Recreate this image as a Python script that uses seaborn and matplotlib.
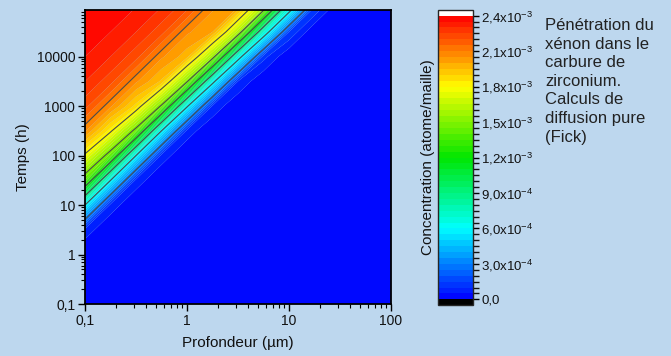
import numpy as np
import matplotlib
matplotlib.use("Agg")
import matplotlib.pyplot as plt
import seaborn as sns
from matplotlib.colors import LinearSegmentedColormap, ListedColormap, BoundaryNorm
from matplotlib.cm import ScalarMappable
from matplotlib.ticker import FixedLocator, FixedFormatter

# ---- data ----
depth_um = [0.1, 0.178, 0.316, 0.562, 1.0, 1.78, 3.16, 5.62, 10.0, 17.8, 31.6, 56.2, 100.0]
time_h = [0.1, 0.316, 1.0, 3.16, 10.0, 31.6, 100.0, 316.0, 1000.0, 3162.0, 10000.0, 31623.0, 100000.0]
# concentration in 1e-3 atome/maille, one row per time, one column per depth
conc_e3 = [
    [0.00, 0.00, 0.00, 0.00, 0.00, 0.00, 0.00, 0.00, 0.00, 0.00, 0.00, 0.00, 0.00],
    [0.00, 0.00, 0.00, 0.00, 0.00, 0.00, 0.00, 0.00, 0.00, 0.00, 0.00, 0.00, 0.00],
    [0.00, 0.00, 0.00, 0.00, 0.00, 0.00, 0.00, 0.00, 0.00, 0.00, 0.00, 0.00, 0.00],
    [0.08, 0.00, 0.00, 0.00, 0.00, 0.00, 0.00, 0.00, 0.00, 0.00, 0.00, 0.00, 0.00],
    [0.60, 0.08, 0.00, 0.00, 0.00, 0.00, 0.00, 0.00, 0.00, 0.00, 0.00, 0.00, 0.00],
    [1.40, 0.60, 0.08, 0.00, 0.00, 0.00, 0.00, 0.00, 0.00, 0.00, 0.00, 0.00, 0.00],
    [1.78, 1.42, 0.60, 0.08, 0.00, 0.00, 0.00, 0.00, 0.00, 0.00, 0.00, 0.00, 0.00],
    [2.06, 1.82, 1.45, 0.60, 0.08, 0.00, 0.00, 0.00, 0.00, 0.00, 0.00, 0.00, 0.00],
    [2.22, 2.06, 1.88, 1.48, 0.62, 0.09, 0.00, 0.00, 0.00, 0.00, 0.00, 0.00, 0.00],
    [2.30, 2.22, 2.06, 1.94, 1.52, 0.65, 0.10, 0.00, 0.00, 0.00, 0.00, 0.00, 0.00],
    [2.35, 2.30, 2.22, 2.06, 1.97, 1.57, 0.68, 0.12, 0.00, 0.00, 0.00, 0.00, 0.00],
    [2.38, 2.35, 2.30, 2.22, 2.06, 2.00, 1.62, 0.72, 0.15, 0.00, 0.00, 0.00, 0.00],
    [2.40, 2.38, 2.35, 2.30, 2.22, 2.06, 2.00, 1.62, 0.72, 0.15, 0.00, 0.00, 0.00],
]
contour_lines_e3 = [0.3, 0.6, 0.9, 1.2, 1.5, 1.8, 2.1]
x_ticks = [0.1, 1, 10, 100]
x_tick_labels = ["0,1", "1", "10", "100"]
y_ticks = [0.1, 1, 10, 100, 1000, 10000]
y_tick_labels = ["0,1", "1", "10", "100", "1000", "10000"]
cb_ticks_e3 = [0.0, 0.3, 0.6, 0.9, 1.2, 1.5, 1.8, 2.1, 2.4]
cb_tick_labels = ["0,0", r"3,0x10$^{-4}$", r"6,0x10$^{-4}$", r"9,0x10$^{-4}$",
                  r"1,2x10$^{-3}$", r"1,5x10$^{-3}$", r"1,8x10$^{-3}$",
                  r"2,1x10$^{-3}$", r"2,4x10$^{-3}$"]
note = "Pénétration du\nxénon dans le\ncarbure de\nzirconium.\nCalculs de\ndiffusion pure\n(Fick)"

# ---- style ----
BG = "#bdd7ee"
INK = "#111111"
sns.set_theme(style="ticks", rc={"axes.facecolor": BG, "figure.facecolor": BG,
                                 "text.color": INK, "axes.labelcolor": INK,
                                 "xtick.color": INK, "ytick.color": INK})
plt.rcParams["font.family"] = ["Liberation Sans", "DejaVu Sans"]
plt.rcParams["mathtext.fontset"] = "custom"
plt.rcParams["mathtext.rm"] = "Liberation Sans"

fig = plt.figure(figsize=(6.71, 3.56), dpi=100)
ax = fig.add_axes([85 / 671, 1 - 304 / 356, 306 / 671, 294 / 356])
cax = fig.add_axes([438 / 671, 1 - 305 / 356, 35 / 671, 295 / 356])

# work in decades so that the log axes are interpolated in log space
LX = np.log10(depth_um)
LY = np.log10(time_h)
Z = np.array(conc_e3) * 1e-3

levels = np.linspace(0, 2.4e-3, 49)
base = LinearSegmentedColormap.from_list(
    "rb", [(0.0, "#0000ff"), (0.25, "#00ffff"), (0.5, "#00e600"),
           (0.75, "#ffff00"), (1.0, "#ff0000")])
mids = (levels[:-1] + levels[1:]) / 2 / 2.4e-3
cmap = ListedColormap(base(mids))
cmap.set_over("white")
cmap.set_under("black")
norm = BoundaryNorm(levels, cmap.N)

ax.contourf(LX, LY, Z, levels=levels, cmap=cmap, norm=norm, antialiased=True)
ax.contour(LX, LY, Z, levels=np.array(contour_lines_e3) * 1e-3,
           colors="#4a4a4a", linewidths=0.8)

ax.set_xlim(np.log10(0.1), np.log10(100))
ax.set_ylim(np.log10(0.1), np.log10(87600))
ax.xaxis.set_major_locator(FixedLocator(np.log10(x_ticks)))
ax.xaxis.set_major_formatter(FixedFormatter(x_tick_labels))
ax.yaxis.set_major_locator(FixedLocator(np.log10(y_ticks)))
ax.yaxis.set_major_formatter(FixedFormatter(y_tick_labels))
minor_x = [np.log10(m * d) for d in [0.1, 1, 10] for m in range(2, 10)]
minor_y = [np.log10(m * d) for d in [0.1, 1, 10, 100, 1000, 10000] for m in range(2, 10)
           if m * d < 87600]
ax.xaxis.set_minor_locator(FixedLocator(minor_x))
ax.yaxis.set_minor_locator(FixedLocator(minor_y))
ax.tick_params(which="major", direction="out", length=5, width=1, labelsize=10,
               color="black", pad=2)
ax.tick_params(which="minor", direction="out", length=3, width=0.8, color="black")
for s in ax.spines.values():
    s.set_linewidth(1.3)
    s.set_color("black")
ax.set_xlabel("Profondeur (µm)", fontsize=11, labelpad=6)
ax.set_ylabel("Temps (h)", fontsize=11, labelpad=5)

sm = ScalarMappable(norm=norm, cmap=cmap)
cb = fig.colorbar(sm, cax=cax, extend="both", extendrect=True, extendfrac=0.02,
                  drawedges=False)
cb.set_ticks(np.array(cb_ticks_e3) * 1e-3)
cb.set_ticklabels(cb_tick_labels)
cb.ax.tick_params(direction="out", length=4, width=1, labelsize=9.5, pad=2,
                  color="black")
cb.outline.set_linewidth(1.0)
cb.ax.yaxis.set_label_position("left")
cb.set_label("Concentration (atome/maille)", fontsize=11, labelpad=2)

fig.text(545 / 671, 1 - 18 / 356, note, ha="left", va="top", fontsize=12,
         linespacing=1.3, color="#222222")

fig.savefig("out.png", dpi=100, facecolor=BG)
